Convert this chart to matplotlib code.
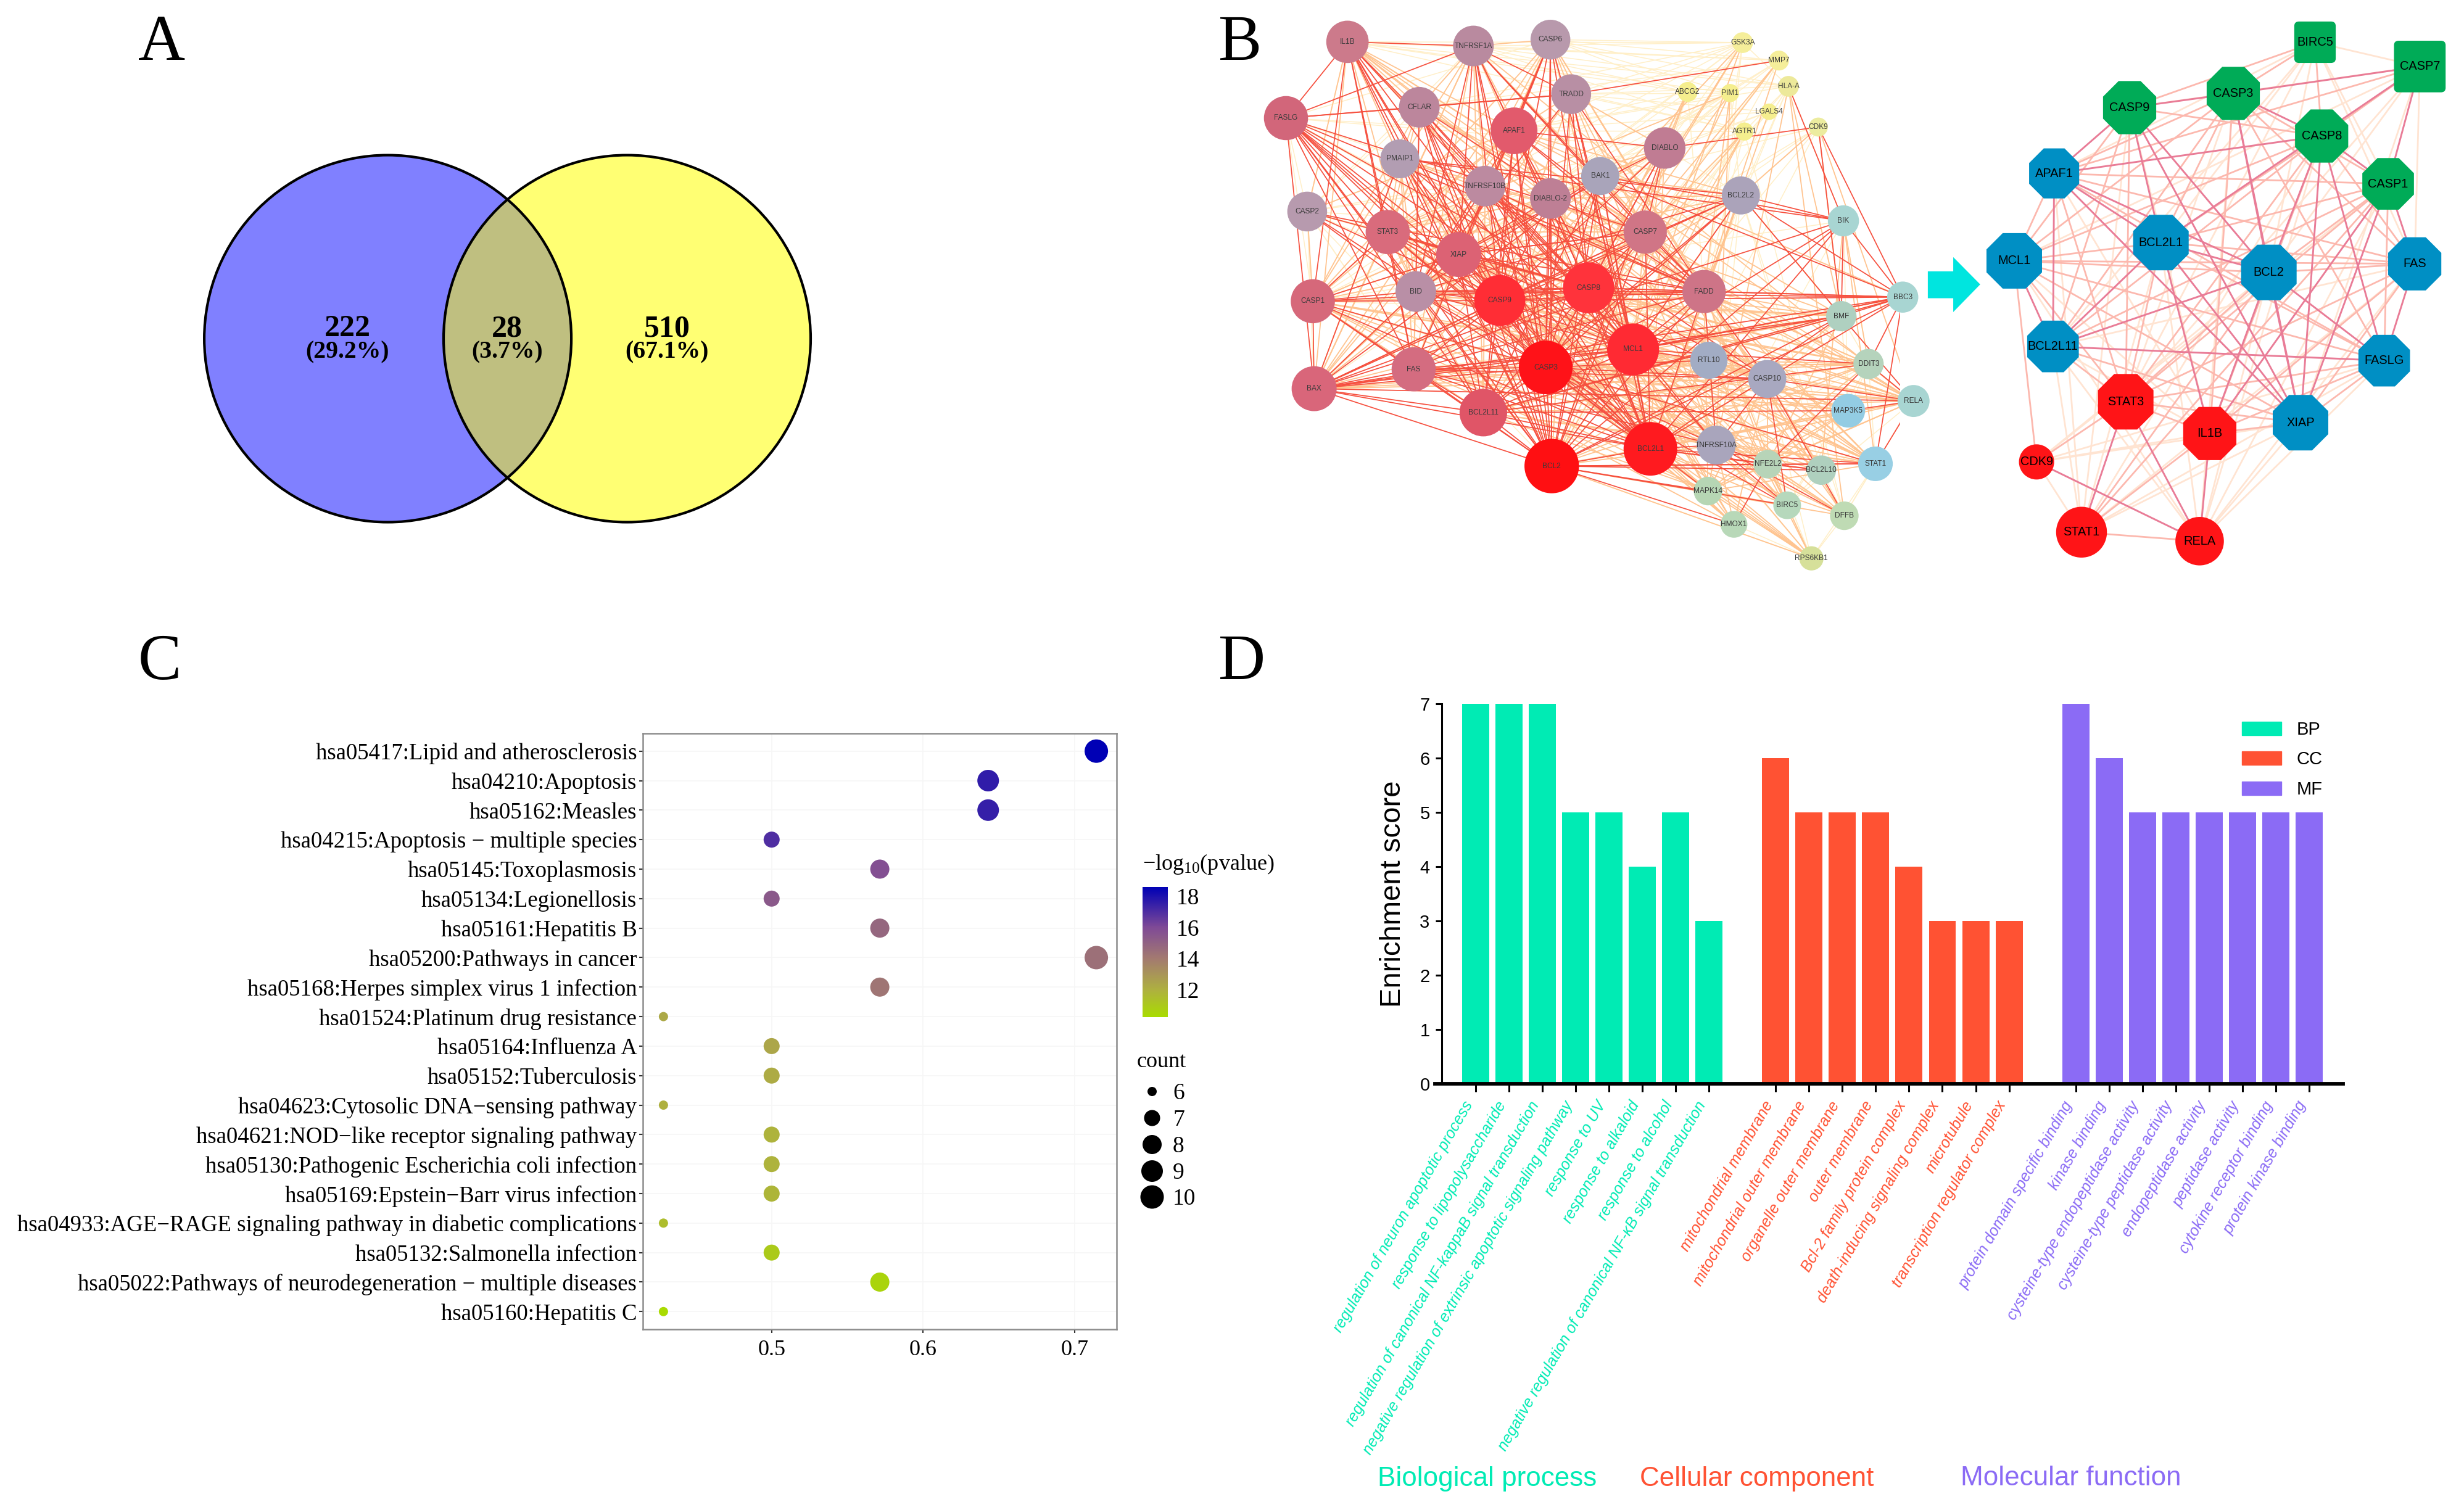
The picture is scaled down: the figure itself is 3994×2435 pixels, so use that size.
import matplotlib
matplotlib.use('Agg')
import matplotlib.pyplot as plt
import numpy as np
from matplotlib.collections import LineCollection
from matplotlib.colors import LinearSegmentedColormap, Normalize
from matplotlib.lines import Line2D
from matplotlib.patches import Circle, Ellipse, FancyBboxPatch, Patch, Polygon

W, H = 3994, 2435
SERIF = 'Liberation Serif'
SANS = 'Liberation Sans'

plt.rcParams['font.family'] = SERIF
plt.rcParams['mathtext.default'] = 'regular'

# panel A
venn_counts = ['222', '28', '510']
venn_shares = ['(29.2%)', '(3.7%)', '(67.1%)']

# panel B, full network: name, x, y, half width, colour
net_names = ['IL1B', 'TNFRSF1A', 'CASP6', 'GSK3A', 'MMP7', 'TRADD', 'ABCG2', 'PIM1', 'HLA-A', 'LGALS4',
             'AGTR1', 'CDK9', 'FASLG', 'CFLAR', 'APAF1', 'DIABLO', 'PMAIP1', 'BAK1', 'TNFRSF10B', 'DIABLO-2',
             'BCL2L2', 'CASP2', 'STAT3', 'XIAP', 'CASP7', 'BIK', 'CASP1', 'BID', 'CASP9', 'CASP8',
             'FADD', 'BMF', 'BBC3', 'MCL1', 'RTL10', 'FAS', 'CASP3', 'CASP10', 'DDIT3', 'MAP3K5',
             'RELA', 'BAX', 'BCL2L11', 'TNFRSF10A', 'BCL2L1', 'BCL2', 'NFE2L2', 'BCL2L10', 'STAT1', 'MAPK14',
             'BIRC5', 'HMOX1', 'DFFB', 'RPS6KB1']
net_x = [291, 582, 760, 1204, 1288, 808, 1077, 1175, 1310, 1265,
         1208, 1379, 149, 457, 676, 1024, 412, 875, 609, 760,
         1200, 198, 384, 548, 979, 1437, 211, 449, 643, 848,
         1115, 1432, 1574, 951, 1126, 444, 749, 1261, 1495, 1448,
         1599, 214, 605, 1143, 991, 763, 1262, 1386, 1511, 1124,
         1307, 1184, 1439, 1363]
net_y = [112, 123, 106, 114, 162, 252, 246, 249, 231, 299,
         352, 340, 316, 287, 350, 396, 425, 471, 498, 531,
         523, 566, 621, 681, 621, 591, 806, 780, 804, 770,
         780, 846, 795, 935, 964, 988, 983, 1014, 974, 1099,
         1073, 1040, 1104, 1191, 1201, 1247, 1242, 1258, 1241, 1314,
         1352, 1403, 1380, 1494]
net_r = [49, 47, 46, 24, 23, 46, 23, 21, 24, 19,
         21, 22, 51, 47, 54, 48, 45, 44, 47, 47,
         44, 46, 51, 52, 50, 36, 51, 47, 59, 59,
         50, 35, 36, 60, 43, 51, 62, 44, 35, 39,
         37, 52, 55, 45, 62, 63, 33, 34, 40, 33,
         32, 31, 33, 28]
net_colors = ['#CC7A8B', '#B98A9F', '#B899AC', '#F5EE9A', '#F5EE9A', '#B88FA4', '#F5EE8E', '#F5EE8E', '#EDE99A', '#F5EE8E',
              '#F5EE8E', '#ECEC9F', '#D2667A', '#BC869C', '#E25A6C', '#C07C93', '#B29DB2', '#A9A4BA', '#BC8AA0', '#BE7F95',
              '#ABA3BA', '#B79AAE', '#D96B7C', '#DC6274', '#D07586', '#A8D5D2', '#D6687A', '#B98FA6', '#FF2D35', '#FF333B',
              '#CE7487', '#AFD0C0', '#A8D5D2', '#FF2A33', '#A2ACC4', '#D46C80', '#FF1218', '#A8A8C0', '#B5D3BC', '#93CCE3',
              '#A8D5D2', '#D9667A', '#E05567', '#A9A5BC', '#FF1A1F', '#FF0F12', '#B7D4B8', '#AFD0BE', '#98CFE4', '#B6D6B4',
              '#B6D8BC', '#B8D8B8', '#BFDBB4', '#D6E09A']

net_strong = {
    'IL1B': 'TNFRSF1A CASP1 CASP3 CASP8 CASP9 XIAP MCL1 STAT3 BCL2 FAS BCL2L1 FASLG',
    'TNFRSF1A': 'FASLG CASP8 CASP3 CASP9 BCL2 APAF1 FADD TRADD BID CASP7 XIAP',
    'CASP6': 'CASP3 CASP8 CASP9 XIAP BCL2 MCL1 FAS APAF1',
    'TRADD': 'CASP8 CASP3 FADD BID MMP7 MCL1 BCL2L1',
    'FASLG': 'CFLAR TRADD CASP8 CASP3 CASP9 BCL2 BCL2L1 XIAP STAT3 FADD BID BAX FAS MCL1 BCL2L11 CASP7',
    'CFLAR': 'CASP8 CASP3 CASP9 FADD BCL2 BCL2L1 XIAP MCL1 BID TRADD',
    'APAF1': 'CASP3 CASP9 CASP8 XIAP BCL2 BCL2L1 MCL1 DIABLO CASP7 FADD BCL2L11 BID',
    'DIABLO': 'XIAP CASP3 CASP9 CASP8 BCL2 CASP7',
    'PMAIP1': 'MCL1 BCL2 BCL2L1 BAX BCL2L2 FADD CASP3 BIK BCL2L11',
    'BAK1': 'BCL2 BCL2L1 MCL1 CASP3 BCL2L11 BBC3 BID BAX BIK',
    'TNFRSF10B': 'CASP8 CASP3 FADD BCL2 BCL2L1 CASP10 BID MCL1',
    'DIABLO-2': 'XIAP CASP3 CASP9 BCL2 BCL2L1 MCL1',
    'BCL2L2': 'BIK BMF BAX BCL2L11 MCL1 BBC3 CASP3 CASP9 BID',
    'STAT3': 'MCL1 BCL2 BCL2L1 CASP3 CASP8 CASP9 XIAP FAS',
    'XIAP': 'CASP3 CASP9 CASP8 CASP7 BCL2 BCL2L1 MCL1 BCL2L11 FADD BID RTL10',
    'CASP7': 'CASP3 CASP9 CASP8 FADD XIAP BCL2 BCL2L1 BAX',
    'CASP2': 'CASP3 CASP9 CASP8 BID FADD',
    'CASP1': 'CASP3 CASP9 CASP8 BID BCL2 XIAP BAX BCL2L1 FAS STAT3',
    'BID': 'CASP3 CASP8 CASP9 BCL2 BCL2L1 MCL1 BAX FADD BBC3 BCL2L11',
    'CASP9': 'CASP3 CASP8 BCL2 BCL2L1 MCL1 BBC3 FADD BCL2L11 BAX FAS',
    'CASP8': 'CASP3 BCL2 BCL2L1 MCL1 FADD FAS BCL2L11 CASP10 BAX TNFRSF10A BBC3',
    'FADD': 'CASP3 BCL2 BCL2L1 MCL1 FAS CASP10 TNFRSF10A BBC3',
    'BIK': 'BCL2 BCL2L1 MCL1 BMF BAX BBC3',
    'BMF': 'BCL2 BCL2L1 MCL1 BAX BCL2L11 BBC3',
    'BBC3': 'MCL1 BCL2 BCL2L1 BAX BCL2L11 CASP3 DDIT3',
    'MCL1': 'CASP3 BCL2 BCL2L1 BAX BCL2L11 RTL10 FAS DDIT3 TNFRSF10A',
    'FAS': 'CASP3 BCL2 BCL2L1 BAX BCL2L11 CASP10 TNFRSF10A MCL1',
    'BAX': 'CASP3 BCL2 BCL2L1 BCL2L11 RELA',
    'BCL2L11': 'CASP3 BCL2 BCL2L1 DDIT3 MAP3K5',
    'CASP3': 'BCL2 BCL2L1 CASP10 TNFRSF10A RTL10 MAPK14 STAT1 BIRC5',
    'BCL2L1': 'BCL2 TNFRSF10A NFE2L2 STAT1 BCL2L10',
    'BCL2': 'BCL2L10 HMOX1 MAPK14 NFE2L2 STAT1 BIRC5',
    'CASP10': 'TNFRSF10A RELA DFFB BIRC5',
    'TNFRSF10A': 'BIRC5 DFFB NFE2L2',
    'NFE2L2': 'HMOX1 BCL2L10 STAT1 DDIT3',
    'STAT1': 'RELA BBC3',
    'RELA': 'BMF MAP3K5 DDIT3 BBC3',
    'CDK9': 'BBC3 BMF DIABLO',
    'HLA-A': 'BIK',
}
net_medium = {
    'IL1B': 'CFLAR APAF1 PMAIP1 TNFRSF10B FADD BAX RELA STAT1 CASP7 BID CASP2 DIABLO-2',
    'TNFRSF1A': 'CASP6 CASP1 BAX FAS STAT3 CFLAR BCL2L11 MCL1 BCL2L1 RELA TNFRSF10B STAT1',
    'CASP6': 'TRADD CASP7 BID CASP1 BCL2L1 FADD BAX DFFB TNFRSF10B',
    'TRADD': 'CFLAR APAF1 DIABLO CASP7 CASP9 BCL2 XIAP TNFRSF10A',
    'CFLAR': 'STAT3 CASP1 CASP7 BAX FAS CASP10 STAT1 RELA',
    'APAF1': 'STAT3 CASP1 FAS BAX BCL2L2 BAK1 DIABLO-2 CASP2 BBC3',
    'DIABLO': 'BAK1 DIABLO-2 STAT3 FAS BCL2L1 MCL1 BCL2L11 BID CASP1 ABCG2',
    'PMAIP1': 'XIAP CASP8 CASP9 BID CASP7 STAT3 FAS DDIT3 BMF',
    'BAK1': 'CASP8 CASP9 BCL2L2 XIAP FADD BMF DDIT3 CASP7',
    'TNFRSF10B': 'XIAP CASP9 BAX STAT3 CASP7 FAS TNFRSF10A RELA STAT1 BCL2L11',
    'DIABLO-2': 'CASP8 CASP7 FAS BID STAT3 CASP1 BAX BCL2L11 FADD BCL2L2',
    'BCL2L2': 'BCL2 BCL2L1 CASP8 FADD XIAP BMF',
    'STAT3': 'CASP7 BID CASP1 BAX RELA STAT1 BCL2L11 HMOX1 NFE2L2 MAPK14 RPS6KB1 DFFB DDIT3',
    'XIAP': 'FAS CASP1 BAX CASP10 RELA STAT1 BCL2L10 TNFRSF10A DFFB BIRC5 DDIT3',
    'CASP7': 'BID CASP1 FAS BCL2L11 MCL1 CASP10 TNFRSF10A DFFB BIRC5 RPS6KB1',
    'CASP1': 'CASP2 FADD MCL1 BCL2L11 CASP10 RELA STAT1 HMOX1 NFE2L2 MAPK14',
    'BID': 'FAS CASP10 TNFRSF10A RTL10 DDIT3 BMF',
    'CASP9': 'CASP10 TNFRSF10A RELA STAT1 DDIT3 BMF MAPK14 HMOX1 DFFB BIRC5 RPS6KB1',
    'CASP8': 'BMF DDIT3 RELA STAT1 DFFB BIRC5 MAPK14 NFE2L2 HMOX1 RTL10',
    'FADD': 'RTL10 BCL2L10 DDIT3 BMF RELA STAT1 NFE2L2 DFFB BIRC5 MAPK14',
    'MCL1': 'CASP10 MAP3K5 RELA STAT1 NFE2L2 BMF BCL2L10 MAPK14 HMOX1 BIRC5',
    'RTL10': 'BCL2L1 BCL2 CASP10 DDIT3 MAP3K5 TNFRSF10A BCL2L10',
    'FAS': 'RTL10 RELA STAT1 MAP3K5 MAPK14 DDIT3',
    'CASP3': 'DDIT3 MAP3K5 RELA BCL2L10 NFE2L2 HMOX1 DFFB RPS6KB1 BMF BBC3',
    'BCL2L1': 'CASP10 DDIT3 MAP3K5 RELA MAPK14 HMOX1 DFFB BIRC5 RPS6KB1',
    'BCL2': 'CASP10 TNFRSF10A DDIT3 MAP3K5 RELA DFFB RPS6KB1',
    'BAX': 'FADD BID RTL10 CASP10 DDIT3',
    'BCL2L11': 'RTL10 CASP10 TNFRSF10A RELA STAT1 BMF BBC3 MAPK14',
    'CASP10': 'DDIT3 MAP3K5 BCL2L10 NFE2L2 STAT1 MAPK14 HMOX1 BMF',
    'TNFRSF10A': 'MAPK14 HMOX1 BCL2L10 RELA STAT1 RPS6KB1',
    'NFE2L2': 'MAPK14 DFFB BIRC5 RPS6KB1 MAP3K5 RELA BMF',
    'MAPK14': 'HMOX1 DDIT3 MAP3K5 RELA RPS6KB1 STAT1 BIRC5',
    'BIK': 'DDIT3 BCL2L10 STAT1',
    'CDK9': 'BCL2L2 BMF RELA',
    'HLA-A': 'BMF TNFRSF10A DFFB',
    'PIM1': 'BCL2 TNFRSF10A FADD STAT3 CASP8',
    'AGTR1': 'BCL2 CASP8 CASP3 MCL1',
    'LGALS4': 'BCL2L1',
    'MMP7': 'CASP8 FADD CASP3',
    'ABCG2': 'BCL2 CASP3 CASP8',
    'GSK3A': 'MCL1 CASP3 CASP8 CASP9',
}
net_faint = {
    'GSK3A': 'TNFRSF1A CASP6 TRADD IL1B FADD BID CFLAR DIABLO HLA-A RTL10 STAT3 XIAP APAF1',
    'MMP7': 'IL1B CASP6 CFLAR CASP7 BCL2 XIAP DIABLO BAK1 TNFRSF1A',
    'ABCG2': 'TNFRSF1A CASP6 FADD CASP7 XIAP APAF1 IL1B',
    'PIM1': 'IL1B TRADD CASP6 CASP9 APAF1 XIAP CASP1 DIABLO BCL2L2',
    'HLA-A': 'IL1B CASP6 TNFRSF1A TRADD APAF1 CASP7 CASP3 BCL2 BCL2L2 BIK FADD',
    'LGALS4': 'TRADD APAF1 CASP7 CASP3 BAK1 DIABLO',
    'AGTR1': 'TRADD TNFRSF1A IL1B APAF1 CASP7 STAT3 FADD DFFB',
    'CDK9': 'CASP3 CASP8 BCL2L1 STAT3 CASP7 MCL1',
    'FASLG': 'CASP2 CASP1 DIABLO APAF1 CASP6 RTL10 CASP10 TNFRSF10B',
    'CASP2': 'IL1B TNFRSF1A CFLAR APAF1 TNFRSF10B STAT3 XIAP CASP1 BAX FAS BCL2 MCL1 CASP7 DIABLO',
    'CASP1': 'BIK BMF CASP7 BAX TNFRSF10B DIABLO',
    'BAX': 'STAT3 CASP7 DIABLO XIAP BCL2L2 CASP10',
    'FAS': 'CASP2 DIABLO CASP7 BMF BCL2L2',
    'RPS6KB1': 'BCL2 BCL2L1 MCL1 DFFB BIRC5 HMOX1 STAT1 CASP10 FADD',
    'DFFB': 'STAT1 BCL2L10 RELA',
    'BIRC5': 'RELA BCL2L10 DDIT3 MAP3K5',
    'DDIT3': 'RTL10 MAP3K5 BIK STAT1 BMF',
    'MAP3K5': 'BMF BIK',
    'TNFRSF10A': 'DDIT3 BMF BIK BCL2L2',
    'BCL2L2': 'RTL10 CASP7 FADD DIABLO BCL2L10 DFFB',
}

# panel B, hub network
hub_names = ['BIRC5', 'CASP7', 'CASP9', 'CASP3', 'CASP8', 'CASP1', 'APAF1', 'MCL1', 'BCL2L1', 'BCL2',
             'FAS', 'BCL2L11', 'FASLG', 'XIAP', 'STAT3', 'IL1B', 'CDK9', 'STAT1', 'RELA']
hub_x = [1187, 1455, 713, 978, 1204, 1374, 520, 418, 793, 1069, 1442, 517, 1364, 1150, 703, 918, 475, 590, 892]
hub_y = [113, 178, 288, 250, 364, 492, 464, 698, 649, 729, 706, 927, 965, 1131, 1075, 1160, 1236, 1424, 1448]
hub_r = [53, 66, 68, 68, 68, 66, 64, 71, 71, 71, 68, 66, 66, 71, 71, 68, 45, 65, 62]
hub_shapes = ['square', 'square', 'octagon', 'octagon', 'octagon', 'octagon', 'octagon', 'octagon', 'octagon', 'octagon',
              'octagon', 'octagon', 'octagon', 'octagon', 'octagon', 'octagon', 'circle', 'circle', 'circle']
hub_colors = ['#00AB57'] * 6 + ['#008FC4'] * 8 + ['#FF1417'] * 5

hub_strong = ['CASP9 CASP3', 'CASP9 APAF1', 'CASP9 BCL2L1', 'CASP3 BCL2', 'CASP3 CASP8', 'CASP7 CASP1', 'CASP7 CASP3',
              'CASP8 CASP1', 'CASP8 BCL2', 'CASP8 APAF1', 'CASP8 FASLG', 'CASP1 XIAP', 'CASP1 IL1B', 'APAF1 BCL2L1',
              'APAF1 BCL2', 'APAF1 BCL2L11', 'MCL1 BCL2L11', 'BCL2L1 BCL2', 'BCL2L1 XIAP', 'BCL2L1 IL1B', 'BCL2 XIAP',
              'BCL2 IL1B', 'BCL2 BCL2L11', 'FAS FASLG', 'BCL2L11 FASLG', 'BCL2 FASLG', 'STAT3 STAT1', 'IL1B RELA',
              'STAT3 RELA', 'CDK9 RELA', 'CASP8 XIAP', 'CASP3 XIAP', 'CASP9 XIAP', 'CASP9 BCL2', 'BCL2L1 BCL2L11',
              'APAF1 XIAP', 'CASP1 FAS', 'CASP7 BCL2L1']
hub_medium = ['BIRC5 CASP9', 'BIRC5 CASP3', 'BIRC5 CASP8', 'CASP7 CASP8', 'CASP7 APAF1', 'CASP9 CASP8', 'CASP9 MCL1',
              'CASP9 STAT3', 'CASP9 BCL2L11', 'CASP3 APAF1', 'CASP3 BCL2L1', 'CASP3 MCL1', 'CASP3 BCL2L11', 'CASP3 IL1B',
              'CASP3 FASLG', 'CASP3 FAS', 'CASP3 CASP1', 'CASP8 BCL2L1', 'CASP8 MCL1', 'CASP8 BCL2L11', 'CASP8 IL1B',
              'CASP8 FAS', 'CASP8 STAT3', 'CASP1 APAF1', 'CASP1 BCL2L1', 'CASP1 BCL2L11', 'CASP1 BCL2', 'CASP1 STAT3',
              'CASP1 FASLG', 'CASP1 STAT1', 'APAF1 MCL1', 'APAF1 FAS', 'APAF1 FASLG', 'APAF1 STAT3', 'MCL1 BCL2L1',
              'MCL1 BCL2', 'MCL1 XIAP', 'MCL1 FAS', 'MCL1 FASLG', 'MCL1 STAT3', 'MCL1 CDK9', 'BCL2L1 FAS', 'BCL2L1 FASLG',
              'BCL2L1 STAT3', 'BCL2 FAS', 'BCL2 STAT3', 'BCL2 STAT1', 'FAS IL1B', 'FAS STAT3', 'FASLG XIAP', 'FASLG STAT3',
              'FASLG IL1B', 'BCL2L11 XIAP', 'BCL2L11 STAT3', 'XIAP IL1B', 'XIAP STAT3', 'STAT3 IL1B', 'STAT3 CDK9',
              'IL1B STAT1', 'STAT1 RELA', 'FAS XIAP']
hub_faint = ['BIRC5 CASP7', 'BIRC5 CASP1', 'BIRC5 APAF1', 'BIRC5 BCL2L1', 'BIRC5 BCL2', 'BIRC5 FAS', 'BIRC5 BCL2L11',
             'CASP7 FAS', 'CASP7 BCL2', 'CASP7 XIAP', 'CASP7 MCL1', 'CASP7 CASP9', 'CASP7 STAT3', 'CASP9 STAT1', 'CASP9 IL1B',
             'CASP3 STAT3', 'CASP3 RELA', 'CASP8 STAT1', 'CASP8 RELA', 'CASP1 CDK9', 'CASP1 RELA', 'APAF1 STAT1', 'APAF1 IL1B',
             'MCL1 IL1B', 'MCL1 RELA', 'BCL2L1 STAT1', 'BCL2L1 RELA', 'BCL2 RELA', 'BCL2 CDK9', 'FAS BCL2L11', 'FAS STAT1',
             'FAS RELA', 'FASLG CDK9', 'FASLG STAT1', 'FASLG RELA', 'BCL2L11 IL1B', 'BCL2L11 STAT1', 'BCL2L11 RELA',
             'XIAP CDK9', 'XIAP STAT1', 'XIAP RELA', 'CDK9 IL1B', 'CDK9 STAT1', 'STAT3 BIRC5']

# panel C
kegg_terms = ['hsa05417:Lipid and atherosclerosis', 'hsa04210:Apoptosis', 'hsa05162:Measles',
              'hsa04215:Apoptosis − multiple species', 'hsa05145:Toxoplasmosis', 'hsa05134:Legionellosis',
              'hsa05161:Hepatitis B', 'hsa05200:Pathways in cancer', 'hsa05168:Herpes simplex virus 1 infection',
              'hsa01524:Platinum drug resistance', 'hsa05164:Influenza A', 'hsa05152:Tuberculosis',
              'hsa04623:Cytosolic DNA−sensing pathway', 'hsa04621:NOD−like receptor signaling pathway',
              'hsa05130:Pathogenic Escherichia coli infection', 'hsa05169:Epstein−Barr virus infection',
              'hsa04933:AGE−RAGE signaling pathway in diabetic complications', 'hsa05132:Salmonella infection',
              'hsa05022:Pathways of neurodegeneration − multiple diseases', 'hsa05160:Hepatitis C']
kegg_ratio = [0.7143, 0.6429, 0.6429, 0.5, 0.5714, 0.5, 0.5714, 0.7143, 0.5714, 0.4286,
              0.5, 0.5, 0.4286, 0.5, 0.5, 0.5, 0.4286, 0.5, 0.5714, 0.4286]
kegg_count = [10, 9, 9, 7, 8, 7, 8, 10, 8, 6, 7, 7, 6, 7, 7, 7, 6, 7, 8, 6]
kegg_logp = [18.6, 17.6, 17.5, 17.0, 15.8, 15.4, 14.8, 14.4, 14.2, 12.3,
             12.4, 12.2, 12.0, 11.9, 11.9, 11.8, 11.5, 11.0, 10.6, 10.3]
count_levels = [6, 7, 8, 9, 10]

# panel D
bp_terms = ['regulation of neuron apoptotic process', 'response to lipopolysaccharide',
            'regulation of canonical NF-kappaB signal transduction',
            'negative regulation of extrinsic apoptotic signaling pathway', 'response to UV', 'response to alkaloid',
            'response to alcohol', 'negative regulation of canonical NF-κB signal transduction']
cc_terms = ['mitochondrial membrane', 'mitochondrial outer membrane', 'organelle outer membrane', 'outer membrane',
            'Bcl-2 family protein complex', 'death-inducing signaling complex', 'microtubule',
            'transcription regulator complex']
mf_terms = ['protein domain specific binding', 'kinase binding', 'cysteine-type endopeptidase activity',
            'cysteine-type peptidase activity', 'endopeptidase activity', 'peptidase activity',
            'cytokine receptor binding', 'protein kinase binding']
bp_scores = [7, 7, 7, 5, 5, 4, 5, 3]
cc_scores = [6, 5, 5, 5, 4, 3, 3, 3]
mf_scores = [7, 6, 5, 5, 5, 5, 5, 5]


def pixel_axes(fig, left, top, right, bottom):
    # axes placed by reference pixels
    return fig.add_axes([left / W, 1 - bottom / H, (right - left) / W, (bottom - top) / H])


def parse_edges(table):
    pairs = []
    for src, targets in table.items():
        for dst in targets.split():
            pairs.append((src, dst))
    return pairs


def add_edges(ax, pairs, lookup, color, width, alpha=1.0):
    segs = [[lookup[a], lookup[b]] for a, b in pairs]
    ax.add_collection(LineCollection(segs, colors=color, linewidths=width, alpha=alpha, zorder=1, capstyle='butt'))


fig = plt.figure(figsize=(W / 100, H / 100), dpi=100, facecolor='white')

# overlay in reference pixels, for venn and panel letters
ax_page = fig.add_axes([0, 0, 1, 1])
ax_page.set_xlim(0, W)
ax_page.set_ylim(H, 0)
ax_page.axis('off')
ax_page.set_aspect('equal')

for letter, lx, ly in [('A', 224, 97), ('B', 1975, 97), ('C', 224, 1101), ('D', 1975, 1101)]:
    ax_page.text(lx, ly, letter, fontsize=76, family=SERIF, ha='left', va='baseline', color='black')

# A: venn
left_c = (628.6, 549)
right_c = (1016.5, 549)
venn_r = 297.5
ax_page.add_patch(Circle(left_c, venn_r, fc='#8080FF', ec='none'))
ax_page.add_patch(Circle(right_c, venn_r, fc='#FFFF73', ec='none'))
overlap = Circle(left_c, venn_r, fc='#BFBF80', ec='none')
ax_page.add_patch(overlap)
overlap.set_clip_path(Circle(right_c, venn_r, transform=ax_page.transData))
for c in (left_c, right_c):
    ax_page.add_patch(Circle(c, venn_r, fc='none', ec='black', lw=3.0))
for i, vx in enumerate([563, 822, 1081]):
    ax_page.text(vx, 533, venn_counts[i], fontsize=36, fontweight='bold', ha='center', va='center')
    ax_page.text(vx, 571, venn_shares[i], fontsize=28.5, ha='center', va='center', fontweight='bold')

# B: full network, coordinates on a 1568 grid over the crop
ax_net = pixel_axes(fig, 1980, 0, 3080, 950)
ax_net.set_xlim(0, 1568)
ax_net.set_ylim(1568, 0)
ax_net.axis('off')
net_pos = {n: (x, y) for n, x, y in zip(net_names, net_x, net_y)}
add_edges(ax_net, parse_edges(net_faint), net_pos, '#FFEFC8', 1.1)
add_edges(ax_net, parse_edges(net_medium), net_pos, '#FFC490', 1.3)
add_edges(ax_net, parse_edges(net_strong), net_pos, '#F6503F', 1.25)
for n, x, y, r, col in zip(net_names, net_x, net_y, net_r, net_colors):
    ax_net.add_patch(Ellipse((x, y), 2 * r, 2 * r * 1.157, fc=col, ec='none', zorder=2, clip_on=False))
    ax_net.text(x, y, n, fontsize=8.6, family=SANS, color='#3A3A3A', ha='center', va='center', zorder=3, clip_on=False)

# B: hub network
ax_hub = pixel_axes(fig, 3000, 0, 3994, 950)
ax_hub.set_xlim(0, 1568)
ax_hub.set_ylim(1568, 0)
ax_hub.axis('off')
ax_hub.add_patch(Polygon([(197, 726), (262, 726), (262, 688), (331, 761), (262, 835), (262, 798), (197, 798)],
                         fc='#00E5DF', ec='none'))
hub_pos = {n: (x, y) for n, x, y in zip(hub_names, hub_x, hub_y)}
add_edges(ax_hub, [e.split() for e in hub_faint], hub_pos, '#FFE4D2', 2.0)
add_edges(ax_hub, [e.split() for e in hub_medium], hub_pos, '#FCB8AE', 2.0)
add_edges(ax_hub, [e.split() for e in hub_strong], hub_pos, '#E97C97', 2.1)
ky = 1.65 / 1.577
for n, x, y, r, shape, col in zip(hub_names, hub_x, hub_y, hub_r, hub_shapes, hub_colors):
    if shape == 'octagon':
        ang = np.deg2rad(22.5 + 45 * np.arange(8))
        rr = r / np.cos(np.deg2rad(22.5))
        ax_hub.add_patch(Polygon(np.c_[x + rr * np.cos(ang), y + rr * ky * np.sin(ang)], fc=col, ec='none', zorder=2))
    elif shape == 'circle':
        ax_hub.add_patch(Ellipse((x, y), 2 * r, 2 * r * ky, fc=col, ec='none', zorder=2))
    else:
        ax_hub.add_patch(FancyBboxPatch((x - r + 10, y - r * ky + 10), 2 * r - 20, 2 * r * ky - 20,
                                        boxstyle='round,pad=10,rounding_size=12', fc=col, ec='none', zorder=2))
    ax_hub.text(x, y, n, fontsize=14.4, family=SANS, color='black', ha='center', va='center', zorder=3)

# C: dot plot
ax_dot = pixel_axes(fig, 1042, 1189, 1810, 2155)
kegg_cmap = LinearSegmentedColormap.from_list(
    'kegg', [(0, '#A9DC00'), (0.21, '#AEB040'), (0.45, '#A37A70'), (0.69, '#7F4A96'), (1, '#0000B5')])
kegg_norm = Normalize(10.25, 18.6)
dot_diam = {6: 15, 7: 26, 8: 31, 9: 35, 10: 38}
rows = np.arange(len(kegg_terms))
dot = ax_dot.scatter(kegg_ratio, rows, s=[(dot_diam[c] * 0.72) ** 2 for c in kegg_count], c=kegg_logp,
                     cmap=kegg_cmap, norm=kegg_norm, linewidths=0, zorder=3)
ax_dot.set_xlim(0.415, 0.7277)
ax_dot.set_ylim(len(kegg_terms) - 0.4, -0.6)
ax_dot.set_xticks([0.5, 0.6, 0.7])
ax_dot.set_yticks(rows)
ax_dot.set_yticklabels(kegg_terms)
ax_dot.tick_params(axis='y', labelsize=26.5, length=4, width=1.5, pad=3, color='#333333')
ax_dot.tick_params(axis='x', labelsize=26, length=4, width=1.5, pad=8, color='#333333')
ax_dot.grid(True, color='#F6F6F6', lw=1.2, zorder=0)
ax_dot.set_axisbelow(True)
for sp in ax_dot.spines.values():
    sp.set_color('#8C8C8C')
    sp.set_linewidth(1.8)

cax = pixel_axes(fig, 1852, 1438, 1893, 1649)
cbar = fig.colorbar(dot, cax=cax, ticks=[12, 14, 16, 18])
cbar.outline.set_visible(False)
cax.tick_params(labelsize=27, length=0, pad=10)
fig.text(1852 / W, 1 - 1401 / H, r'$-log_{10}$(pvalue)', fontsize=26, family=SERIF, ha='left', va='center')

size_handles = [Line2D([], [], ls='none', marker='o', color='black', markeredgewidth=0,
                       markersize=dot_diam[c] * 0.72, label=str(c)) for c in count_levels]
leg_c = fig.legend(handles=size_handles, title='count', loc='upper left', frameon=False, fontsize=27,
                   title_fontsize=26, bbox_to_anchor=(1843 / W, 1 - 1705 / H), labelspacing=0.22,
                   handletextpad=0.25, handlelength=1.3, alignment='left', borderpad=0, borderaxespad=0)
leg_c.get_title().set_family(SERIF)
# gap under the legend title
leg_c._legend_box.sep += 7

# D: enrichment bars
ax_bar = pixel_axes(fig, 2337, 1141, 3798, 1757)
bp_pos = np.arange(8)
cc_pos = np.arange(8) + 9
mf_pos = np.arange(8) + 18
BP_COL, CC_COL, MF_COL = '#00EBB4', '#FF5233', '#8B6BF5'
bar_w = 44 / 54.04
ax_bar.bar(bp_pos, bp_scores, width=bar_w, color=BP_COL, label='BP')
ax_bar.bar(cc_pos, cc_scores, width=bar_w, color=CC_COL, label='CC')
ax_bar.bar(mf_pos, mf_scores, width=bar_w, color=MF_COL, label='MF')
ax_bar.set_xlim(-1.018, 26.02)
ax_bar.set_ylim(0, 7)
ax_bar.set_yticks(range(8))
ax_bar.tick_params(axis='y', labelsize=21, length=7, width=2.2, pad=7)
for lab in ax_bar.get_yticklabels():
    lab.set_family(SANS)
all_pos = np.r_[bp_pos, cc_pos, mf_pos]
all_terms = bp_terms + cc_terms + mf_terms
all_cols = [BP_COL] * 8 + [CC_COL] * 8 + [MF_COL] * 8
ax_bar.set_xticks(all_pos)
ax_bar.set_xticklabels(all_terms, rotation=60, ha='right', va='bottom', rotation_mode='anchor')
ax_bar.tick_params(axis='x', length=9, width=2.2, pad=17)
for lab, col in zip(ax_bar.get_xticklabels(), all_cols):
    lab.set_family(SANS)
    lab.set_style('italic')
    lab.set_fontsize(18.1)
    lab.set_color(col)
for sp in ('top', 'right'):
    ax_bar.spines[sp].set_visible(False)
ax_bar.spines['left'].set_linewidth(2.2)
ax_bar.spines['bottom'].set_linewidth(4.2)
ax_bar.spines['bottom'].set_bounds(-1.22, 26.02)
fig.text(2258 / W, 1 - 1449 / H, 'Enrichment score', rotation=90, fontsize=34, family=SANS, ha='center', va='center')

leg_handles = [Patch(color=BP_COL, label='BP'), Patch(color=CC_COL, label='CC'), Patch(color=MF_COL, label='MF')]
leg_d = fig.legend(handles=leg_handles, loc='upper left', frameon=False, bbox_to_anchor=(3634 / W, 1 - 1169 / H),
                   prop={'family': SANS, 'size': 21}, handlelength=2.2, handleheight=0.8, labelspacing=0.7,
                   handletextpad=0.85, borderpad=0, borderaxespad=0)

for label, gx, col in [('Biological process', 2233, BP_COL), ('Cellular component', 2658, CC_COL),
                       ('Molecular function', 3178, MF_COL)]:
    fig.text(gx / W, 1 - 2397 / H, label, fontsize=31.7, family=SANS, color=col, ha='left', va='center')

fig.savefig('out.png', dpi=100, facecolor='white')
